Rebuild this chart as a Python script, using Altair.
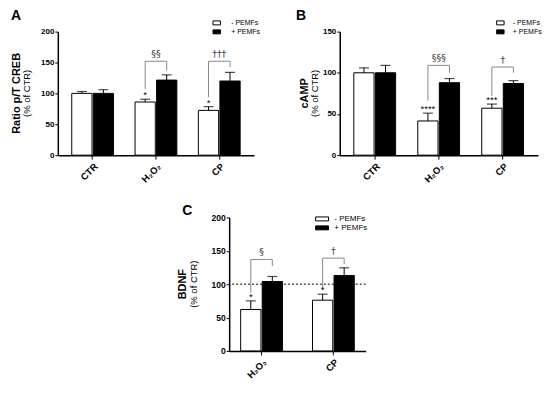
import altair as alt
import pandas as pd

FONT = "Liberation Sans"
SYM_FONT = "DejaVu Sans"
groups = ["- PEMFs", "+ PEMFs"]

# ---------- Panel A: Ratio p/T CREB ----------
a_ytitle = ["Ratio p/T CREB", "(% of CTR)"]
a_cats = ["CTR", "H₂O₂", "CP"]
a_minus = [100, 86, 72.5]
a_minus_err = [3, 4.5, 6]
a_plus = [100, 121.5, 120]
a_plus_err = [6, 8.5, 14]
a_br_cats = ["H₂O₂", "CP"]
a_br_top = [152, 152]
a_br_left = [107, 94]
a_br_right = [137, 143]
a_br_text = ["§§", "†††"]
a_star_cats = ["H₂O₂", "CP"]
a_star_text = ["*", "*"]
a_yticks = [0, 50, 100, 150, 200]

# ---------- Panel B: cAMP ----------
b_ytitle = ["cAMP", "(% of CTR)"]
b_cats = ["CTR", "H₂O₂", "CP"]
b_minus = [100, 41.5, 57]
b_minus_err = [6, 9.5, 5]
b_plus = [100, 88, 87]
b_plus_err = [9, 5, 3.5]
b_br_cats = ["H₂O₂", "CP"]
b_br_top = [109, 107]
b_br_left = [66, 72]
b_br_right = [100, 100]
b_br_text = ["§§§", "†"]
b_star_cats = ["H₂O₂", "CP"]
b_star_text = ["****", "***"]
b_yticks = [0, 50, 100, 150]

# ---------- Panel C: BDNF ----------
c_ytitle = ["BDNF", "(% of CTR)"]
c_cats = ["H₂O₂", "CP"]
c_minus = [62, 76]
c_minus_err = [13, 9]
c_plus = [104, 113]
c_plus_err = [7.5, 11.5]
c_br_cats = ["H₂O₂", "CP"]
c_br_top = [137, 139]
c_br_left = [87, 93]
c_br_right = [127, 130]
c_br_text = ["§", "†"]
c_star_cats = ["H₂O₂", "CP"]
c_star_text = ["*", "*"]
c_yticks = [0, 50, 100, 150, 200]
c_ref = [100]


def panel(letter, letter_dx, cats, minus, minus_err, plus, plus_err,
          br_cats, br_top, br_left, br_right, br_text,
          star_cats, star_text, ytitle, ytitle_x, ymax, yticks, ylab_size,
          width, height, pin, pout, legend_xy, leg_font, leg_sym, leg_path,
          leg_off, title_offset, ref_vals=None):
    rows = []
    for c, v, e in zip(cats, minus, minus_err):
        rows.append({"cat": c, "grp": groups[0], "v": v, "hi": v + e})
    for c, v, e in zip(cats, plus, plus_err):
        rows.append({"cat": c, "grp": groups[1], "v": v, "hi": v + e})
    bars_df = pd.DataFrame(rows)

    br_rows = []
    for c, t, l, r in zip(br_cats, br_top, br_left, br_right):
        br_rows += [
            {"cat": c, "grp": groups[0], "v": l, "o": 0},
            {"cat": c, "grp": groups[0], "v": t, "o": 1},
            {"cat": c, "grp": groups[1], "v": t, "o": 2},
            {"cat": c, "grp": groups[1], "v": r, "o": 3},
        ]
    br_df = pd.DataFrame(br_rows)
    brt_df = pd.DataFrame({"cat": br_cats, "v": br_top, "t": br_text})

    hi_map = {r["cat"]: r["hi"] for r in rows if r["grp"] == groups[0]}
    st_df = pd.DataFrame({"cat": star_cats, "grp": groups[0],
                          "v": [hi_map[c] for c in star_cats], "t": star_text})

    xscale = alt.Scale(domain=cats, paddingInner=pin, paddingOuter=pout)
    xaxis = alt.Axis(title=None, labelAngle=-45, labelFontWeight="bold",
                     labelFontSize=9.5, labelColor="black", tickSize=4,
                     tickColor="black", domainColor="black", domainWidth=1.5,
                     labelPadding=2)
    yscale = alt.Scale(domain=[0, ymax], nice=False)
    yaxis = alt.Axis(title=None, values=yticks, labelFontWeight="bold",
                     labelFontSize=ylab_size, labelColor="black", tickSize=3,
                     labelOverlap=False, labelPadding=1,
                     tickColor="black", domainColor="black", domainWidth=1.5,
                     grid=False)
    X = alt.X("cat:N", scale=xscale, axis=xaxis, sort=cats)

    def Y(f):
        return alt.Y(f, scale=yscale, axis=yaxis)
    xoff = alt.XOffset("grp:N", scale=alt.Scale(domain=groups, paddingInner=0.06))

    base = alt.Chart(bars_df)
    bars = base.mark_bar(stroke="black", strokeWidth=1).encode(
        x=X, xOffset=xoff, y=Y("v:Q"),
        fill=alt.Fill("grp:N", scale=alt.Scale(domain=groups, range=["white", "black"]),
                      legend=alt.Legend(title=None, orient="none", padding=0,
                                        legendX=legend_xy[0], legendY=legend_xy[1],
                                        symbolType=leg_path,
                                        symbolSize=leg_sym, symbolStrokeColor="black",
                                        symbolStrokeWidth=1, labelFontSize=leg_font,
                                        labelColor="black", labelFont=FONT,
                                        rowPadding=0, labelOffset=leg_off)),
    )
    err = base.mark_rule(color="black", strokeWidth=1).encode(
        x=X, xOffset=xoff, y=Y("v:Q"), y2="hi:Q")
    cap = base.mark_tick(color="black", thickness=1.2, size=10).encode(
        x=X, xOffset=xoff, y=Y("hi:Q"))

    bracket = alt.Chart(br_df).mark_line(color="#8a8a8a", strokeWidth=1).encode(
        x=X, xOffset=xoff, y=Y("v:Q"), detail="cat:N", order="o:Q")
    brtext = alt.Chart(brt_df).mark_text(baseline="bottom", dy=-2, fontSize=9.5,
                                         font=SYM_FONT, color="#444444").encode(
        x=X, y=Y("v:Q"), text="t:N")
    stars = alt.Chart(st_df).mark_text(baseline="bottom", dy=1, fontSize=9.5,
                                       color="black").encode(
        x=X, xOffset=xoff, y=Y("v:Q"), text="t:N")

    t1 = alt.Chart(pd.DataFrame({"t": [ytitle[0]]})).mark_text(
        angle=270, fontSize=11, fontWeight="bold", color="black",
        baseline="middle", align="center").encode(
        x=alt.value(ytitle_x[0]), y=alt.value(height / 2), text="t:N")
    t2 = alt.Chart(pd.DataFrame({"t": [ytitle[1]]})).mark_text(
        angle=270, fontSize=9.5, color="black",
        baseline="middle", align="center").encode(
        x=alt.value(ytitle_x[1]), y=alt.value(height / 2), text="t:N")

    layers = [bars, err, cap, bracket, brtext, stars, t1, t2]
    if ref_vals:
        ref = alt.Chart(pd.DataFrame({"v": ref_vals})).mark_rule(
            color="black", strokeDash=[2, 2], strokeWidth=1).encode(y=Y("v:Q"))
        layers.insert(0, ref)

    return alt.layer(*layers).properties(
        width=width, height=height,
        title=alt.TitleParams(letter, anchor="start", frame="group", dx=letter_dx,
                              dy=-3, fontSize=14, fontWeight="bold", color="black",
                              offset=title_offset),
    )


AB_PATH = "M-1,-0.53H1V0.53H-1Z"
C_PATH = "M-1.73,-0.53H1.73V0.53H-1.73Z"

A = panel("A", -47, a_cats, a_minus, a_minus_err, a_plus, a_plus_err,
          a_br_cats, a_br_top, a_br_left, a_br_right, a_br_text,
          a_star_cats, a_star_text, a_ytitle, (-41, -31), 200, a_yticks, 8,
          197, 124, 0.34, 0.22, (155, -13.25), 7, 56, AB_PATH, 10, -7.5)
B = panel("B", -44, b_cats, b_minus, b_minus_err, b_plus, b_plus_err,
          b_br_cats, b_br_top, b_br_left, b_br_right, b_br_text,
          b_star_cats, b_star_text, b_ytitle, (-35, -24.5), 150, b_yticks, 8,
          199, 124, 0.34, 0.22, (156.7, -13.25), 7, 56, AB_PATH, 8, -7.5)
C = panel("C", -47, c_cats, c_minus, c_minus_err, c_plus, c_plus_err,
          c_br_cats, c_br_top, c_br_left, c_br_right, c_br_text,
          c_star_cats, c_star_text, c_ytitle, (-46, -35.5), 200, c_yticks, 8.5,
          137, 134, 0.42, 0.16, (88.75, -3), 8, 56, C_PATH, 7.75, -8,
          ref_vals=c_ref)

spacer = alt.Chart(pd.DataFrame({"v": [0]})).mark_point(opacity=0).encode(
    x=alt.value(0), y=alt.value(0)).properties(width=120, height=1)

top = alt.hconcat(A, B, spacing=36).resolve_scale(fill="independent").resolve_legend(fill="independent")
bottom = alt.hconcat(spacer, C, spacing=0).resolve_scale(fill="independent").resolve_legend(fill="independent")
chart = alt.vconcat(top, bottom, spacing=20.5).resolve_scale(
    fill="independent").resolve_legend(fill="independent").configure(
    font=FONT, padding={"left": 3, "top": 0, "right": 0, "bottom": 0}
).configure_view(stroke=None)

chart.save("out.html", embed_options={"renderer": "svg", "actions": False})
